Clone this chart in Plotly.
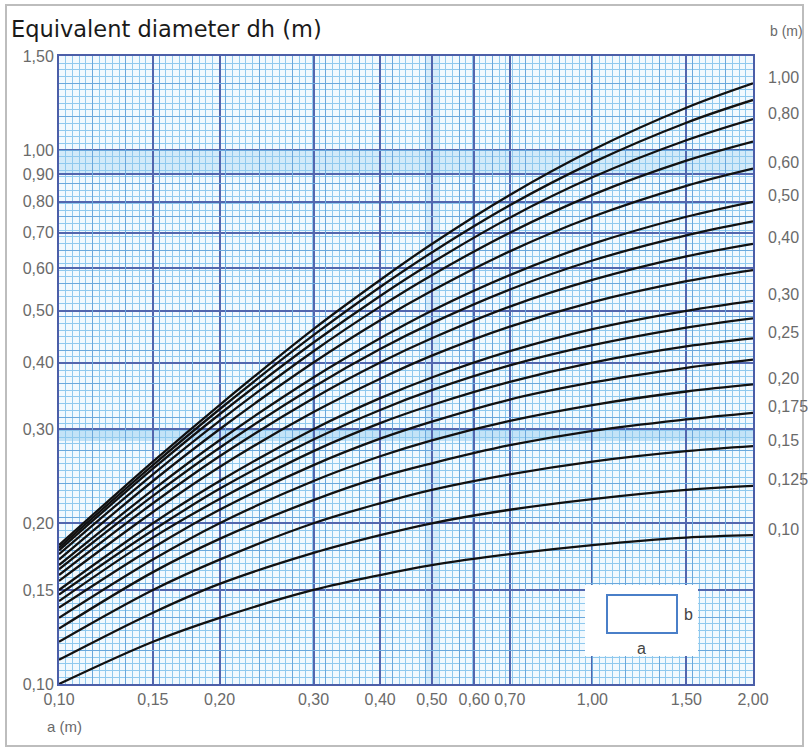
import numpy as np
import plotly.graph_objects as go

# ---------------- data ----------------
a_values = [0.10, 0.15, 0.20, 0.30, 0.40, 0.50, 0.70, 1.00, 1.50, 2.00]

b_values = [1.00, 0.90, 0.80, 0.70, 0.60, 0.50, 0.45, 0.40, 0.35,
            0.30, 0.275, 0.25, 0.225, 0.20, 0.175, 0.15, 0.125, 0.10]

dh_b100 = [0.182, 0.261, 0.333, 0.462, 0.571, 0.667, 0.824, 1.000, 1.200, 1.333]
dh_b090 = [0.180, 0.257, 0.327, 0.450, 0.554, 0.643, 0.788, 0.947, 1.125, 1.241]
dh_b080 = [0.178, 0.253, 0.320, 0.436, 0.533, 0.615, 0.747, 0.889, 1.043, 1.143]
dh_b070 = [0.175, 0.247, 0.311, 0.420, 0.509, 0.583, 0.700, 0.824, 0.955, 1.037]
dh_b060 = [0.171, 0.240, 0.300, 0.400, 0.480, 0.545, 0.646, 0.750, 0.857, 0.923]
dh_b050 = [0.167, 0.231, 0.286, 0.375, 0.444, 0.500, 0.583, 0.667, 0.750, 0.800]
dh_b045 = [0.164, 0.225, 0.277, 0.360, 0.424, 0.474, 0.548, 0.621, 0.692, 0.735]
dh_b040 = [0.160, 0.218, 0.267, 0.343, 0.400, 0.444, 0.509, 0.571, 0.632, 0.667]
dh_b035 = [0.156, 0.210, 0.255, 0.323, 0.373, 0.412, 0.467, 0.519, 0.568, 0.596]
dh_b030 = [0.150, 0.200, 0.240, 0.300, 0.343, 0.375, 0.420, 0.462, 0.500, 0.522]
dh_b0275 = [0.147, 0.194, 0.232, 0.287, 0.326, 0.355, 0.395, 0.431, 0.465, 0.484]
dh_b025 = [0.143, 0.188, 0.222, 0.273, 0.308, 0.333, 0.368, 0.400, 0.429, 0.444]
dh_b0225 = [0.139, 0.180, 0.212, 0.257, 0.288, 0.310, 0.341, 0.367, 0.391, 0.405]
dh_b020 = [0.133, 0.171, 0.200, 0.240, 0.267, 0.286, 0.311, 0.333, 0.353, 0.364]
dh_b0175 = [0.127, 0.162, 0.187, 0.221, 0.244, 0.259, 0.280, 0.298, 0.313, 0.322]
dh_b015 = [0.120, 0.150, 0.171, 0.200, 0.218, 0.231, 0.247, 0.261, 0.273, 0.279]
dh_b0125 = [0.111, 0.136, 0.154, 0.176, 0.190, 0.200, 0.212, 0.222, 0.231, 0.235]
dh_b010 = [0.100, 0.120, 0.133, 0.150, 0.160, 0.167, 0.175, 0.182, 0.188, 0.190]

dh_series = [dh_b100, dh_b090, dh_b080, dh_b070, dh_b060, dh_b050, dh_b045,
             dh_b040, dh_b035, dh_b030, dh_b0275, dh_b025, dh_b0225, dh_b020,
             dh_b0175, dh_b015, dh_b0125, dh_b010]

labeled_b = [1.00, 0.80, 0.60, 0.50, 0.40, 0.30, 0.25, 0.20, 0.175, 0.15, 0.125, 0.10]
labeled_b_text = ["1,00", "0,80", "0,60", "0,50", "0,40", "0,30", "0,25",
                  "0,20", "0,175", "0,15", "0,125", "0,10"]

x_tickvals = [0.10, 0.15, 0.20, 0.30, 0.40, 0.50, 0.60, 0.70, 1.00, 1.50, 2.00]
x_ticktext = ["0,10", "0,15", "0,20", "0,30", "0,40", "0,50", "0,60", "0,70", "1,00", "1,50", "2,00"]
y_tickvals = [0.10, 0.15, 0.20, 0.30, 0.40, 0.50, 0.60, 0.70, 0.80, 0.90, 1.00, 1.50]
y_ticktext = ["0,10", "0,15", "0,20", "0,30", "0,40", "0,50", "0,60", "0,70", "0,80", "0,90", "1,00", "1,50"]

# ---------------- styling ----------------
W, H = 808, 749
L, R, T, B = 59, 55, 56, 65
PW, PH = W - L - R, H - T - B

def px(xp):
    return (xp - L) / PW

def py(yp):
    return 1 - (yp - T) / PH

TICK_FONT = dict(family="Liberation Sans, Arial", size=16, color="#6a6a6a")

# graph-paper grid positions (styling)
xmin, xmax = 0.10, 2.00
ymin, ymax = 0.10, 1.50
fine_x = 10 ** np.arange(np.log10(xmin), np.log10(xmax) + 1e-9, 1 / 80)
fine_y = 10 ** np.arange(np.log10(ymin), np.log10(ymax) + 1e-9, 1 / 80)
mid_x = 10 ** np.arange(np.log10(xmin), np.log10(xmax) + 1e-9, 1 / 16)
mid_y = 10 ** np.arange(np.log10(ymin), np.log10(ymax) + 1e-9, 1 / 16)

fig = go.Figure()

# dummy trace for the overlay grid axes
fig.add_trace(go.Scatter(x=[xmin, xmax], y=[ymin, ymax], xaxis="x2", yaxis="y2",
                         mode="markers", marker=dict(opacity=0), hoverinfo="skip",
                         showlegend=False))

for b, dh in zip(b_values, dh_series):
    fig.add_trace(go.Scatter(
        x=a_values, y=dh, mode="lines", name=f"b = {b}",
        line=dict(color="#111111", width=2.3, shape="spline", smoothing=1.0),
        showlegend=False))

annotations = []
# right-hand b labels
for b, txt in zip(labeled_b, labeled_b_text):
    idx = b_values.index(b)
    yend = dh_series[idx][-1]
    annotations.append(dict(x=px(766), xref="paper", y=np.log10(yend), yref="y",
                            text=txt, showarrow=False, xanchor="left", yanchor="middle",
                            yshift=6, font=TICK_FONT))

annotations += [
    dict(x=px(9), y=py(29), xref="paper", yref="paper", text="Equivalent diameter dh (m)",
         showarrow=False, xanchor="left", yanchor="middle",
         font=dict(family="DejaVu Sans, Liberation Sans", size=22.5, color="#1a1a1a")),
    dict(x=px(786), y=py(31), xref="paper", yref="paper", text="b (m)",
         showarrow=False, xanchor="center", yanchor="middle",
         font=dict(family=TICK_FONT["family"], size=14, color="#6a6a6a")),
    dict(x=px(64), y=py(726), xref="paper", yref="paper", text="a (m)",
         showarrow=False, xanchor="center", yanchor="middle",
         font=dict(family=TICK_FONT["family"], size=15, color="#6a6a6a")),
    dict(x=px(688), y=py(614), xref="paper", yref="paper", text="b",
         showarrow=False, xanchor="center", yanchor="middle",
         font=dict(family="Liberation Sans, Arial", size=16, color="#444")),
    dict(x=px(641), y=py(648), xref="paper", yref="paper", text="a",
         showarrow=False, xanchor="center", yanchor="middle",
         font=dict(family="Liberation Sans, Arial", size=16, color="#444")),
]

shapes = [
    # scanned shading bands
    dict(type="rect", xref="paper", yref="paper", x0=0, x1=1, y0=py(173), y1=py(150),
         fillcolor="#8cc8f0", opacity=0.3, line_width=0, layer="below"),
    dict(type="rect", xref="paper", yref="paper", x0=0, x1=1, y0=py(441), y1=py(429),
         fillcolor="#8cc8f0", opacity=0.45, line_width=0, layer="below"),
    dict(type="rect", xref="paper", yref="paper", x0=px(425), x1=px(440), y0=0, y1=1,
         fillcolor="#8cc8f0", opacity=0.25, line_width=0, layer="below"),
    # inset box with rectangle sketch
    dict(type="rect", xref="paper", yref="paper", x0=px(585), x1=px(698), y0=py(656), y1=py(585),
         fillcolor="white", line_width=0, layer="above"),
    dict(type="rect", xref="paper", yref="paper", x0=px(607), x1=px(677), y0=py(633), y1=py(595),
         fillcolor="white", line=dict(color="#4a7fc8", width=2), layer="above"),
    # page frame
    dict(type="rect", xref="paper", yref="paper", x0=px(6), x1=px(803), y0=py(746), y1=py(5),
         line=dict(color="#bdbdbd", width=2), layer="below"),
]

fig.update_layout(
    width=W, height=H,
    margin=dict(l=L, r=R, t=T, b=B),
    paper_bgcolor="white",
    plot_bgcolor="#f1f9fe",
    showlegend=False,
    annotations=annotations,
    shapes=shapes,
    xaxis=dict(type="log", range=[np.log10(xmin), np.log10(xmax)],
               tickmode="array", tickvals=x_tickvals, ticktext=x_ticktext,
               tickfont=TICK_FONT, ticks="", showgrid=True,
               gridcolor="#5266ae", gridwidth=1.6,
               minor=dict(tickmode="array", tickvals=list(fine_x), showgrid=True,
                          gridcolor="#8fc9ee", gridwidth=1, ticks=""),
               showline=True, linecolor="#4b5ea8", linewidth=2, mirror=True,
               zeroline=False, fixedrange=True, automargin=False),
    yaxis=dict(type="log", range=[np.log10(ymin), np.log10(ymax)],
               tickmode="array", tickvals=y_tickvals, ticktext=y_ticktext,
               tickfont=TICK_FONT, ticks="", showgrid=True,
               gridcolor="#5266ae", gridwidth=1.6,
               minor=dict(tickmode="array", tickvals=list(fine_y), showgrid=True,
                          gridcolor="#8fc9ee", gridwidth=1, ticks=""),
               showline=True, linecolor="#4b5ea8", linewidth=2, mirror=True,
               zeroline=False, fixedrange=True, automargin=False),
    xaxis2=dict(type="log", range=[np.log10(xmin), np.log10(xmax)], overlaying="x",
                tickmode="array", tickvals=list(mid_x), showticklabels=False, ticks="",
                showgrid=True, gridcolor="#6aa8dc", gridwidth=1, zeroline=False,
                fixedrange=True),
    yaxis2=dict(type="log", range=[np.log10(ymin), np.log10(ymax)], overlaying="y",
                tickmode="array", tickvals=list(mid_y), showticklabels=False, ticks="",
                showgrid=True, gridcolor="#6aa8dc", gridwidth=1, zeroline=False,
                fixedrange=True),
)

fig.write_html("out.html",
               config={"displayModeBar": False},
               post_script="document.body.style.margin='0';document.body.style.overflow='hidden';")
